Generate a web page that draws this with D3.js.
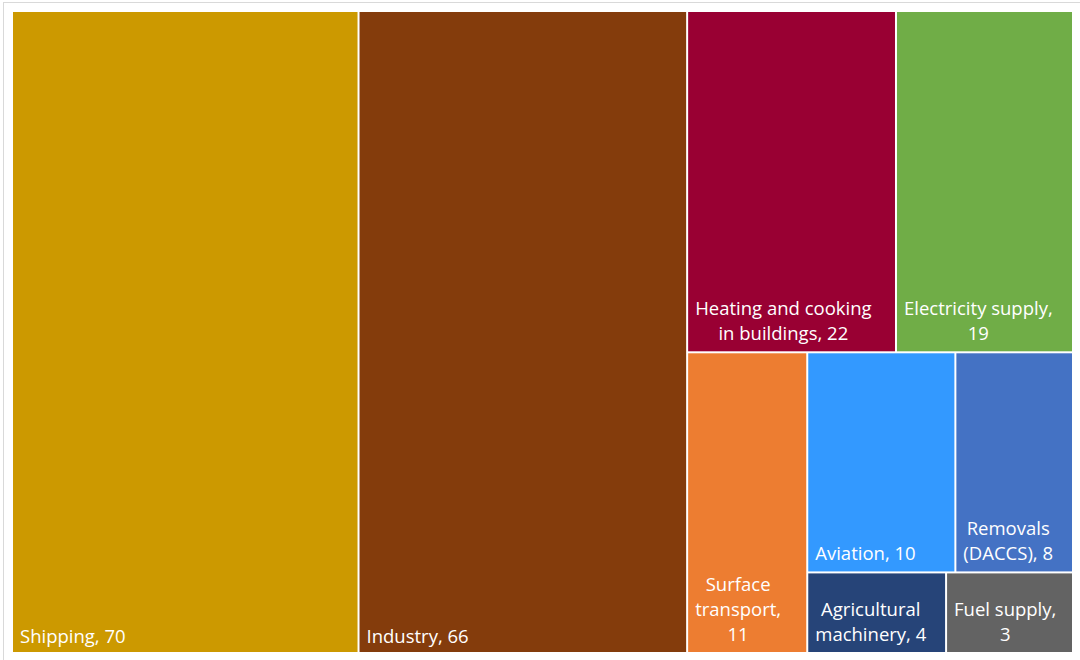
<!DOCTYPE html>
<html>
<head>
<meta charset="utf-8">
<script src="https://cdn.jsdelivr.net/npm/d3@7"></script>
<style>
  body { margin: 0; background: #fff; }
  svg { display: block; }
</style>
</head>
<body>
<div id="chart"></div>
<script>
// sectors and their (residual) emissions, labels show rounded values
const sectors = ["Shipping", "Industry", "Heating and cooking in buildings", "Electricity supply",
  "Surface transport", "Aviation", "Removals (DACCS)", "Agricultural machinery", "Fuel supply"];
const emissions = [69.6, 66, 22.3, 18.9, 11.3, 10.2, 8.1, 3.5, 3.2];
const colours = ["#CC9900", "#843C0C", "#990033", "#70AD47", "#ED7D31", "#3399FF", "#4472C4", "#264478", "#636363"];

const W = 1080, H = 660;
const svg = d3.select("#chart").append("svg")
    .attr("width", W)
    .attr("height", H);

// chart frame
svg.append("rect")
    .attr("x", 3.5)
    .attr("y", 2.5)
    .attr("width", W + 20)
    .attr("height", H + 20)
    .attr("fill", "none")
    .attr("stroke", "#d9d9d9")
    .attr("stroke-width", 1);

const leaf = i => ({ name: sectors[i], value: emissions[i], i: i });

// grouping the way the original tiling splits the area
const tree = {
  children: [
    leaf(0), leaf(1),
    { children: [
      { children: [leaf(2), leaf(3)] },
      { children: [
        leaf(4),
        { children: [
          { children: [leaf(5), leaf(6)] },
          { children: [leaf(7), leaf(8)] }
        ] }
      ] }
    ] }
  ]
};

const root = d3.hierarchy(tree).sum(d => d.value || 0);

d3.treemap()
    .tile(d3.treemapSliceDice)
    .size([1059, 640])
    .paddingInner(2)(root);

const g = svg.append("g").attr("transform", "translate(13,12)");

const cell = g.selectAll("g.cell")
    .data(root.leaves())
    .join("g")
    .attr("class", "cell");

cell.append("rect")
    .attr("x", d => d.x0)
    .attr("y", d => d.y0)
    .attr("width", d => d.x1 - d.x0)
    .attr("height", d => d.y1 - d.y0)
    .attr("fill", d => colours[d.data.i]);

const lineH = 25;

cell.each(function(d) {
  const words = (d.data.name + ", " + Math.round(d.data.value)).split(" ");
  const maxW = d.x1 - d.x0 - 14;
  const txt = d3.select(this).append("text")
      .attr("fill", "#fff")
      .style("font-family", "'Open Sans', 'Segoe UI', sans-serif")
      .style("font-size", "18.5px")
      .attr("text-anchor", "middle");

  // greedy wrap
  const lines = [];
  let cur = [];
  const probe = txt.append("tspan");
  words.forEach(w => {
    const test = cur.concat(w).join(" ");
    probe.text(test);
    if (cur.length && probe.node().getComputedTextLength() > maxW) {
      lines.push(cur.join(" "));
      cur = [w];
    } else {
      cur.push(w);
    }
  });
  lines.push(cur.join(" "));

  const widths = lines.map(l => { probe.text(l); return probe.node().getComputedTextLength(); });
  probe.remove();
  const blockW = d3.max(widths);
  const cx = d.x0 + 7 + blockW / 2;
  const lastY = d.y1 - (lines.length > 1 || d.y1 < 600 ? 11.5 : 9);

  lines.forEach((l, k) => {
    txt.append("tspan")
        .attr("x", cx)
        .attr("y", lastY - (lines.length - 1 - k) * lineH)
        .text(l);
  });
});
</script>
</body>
</html>
